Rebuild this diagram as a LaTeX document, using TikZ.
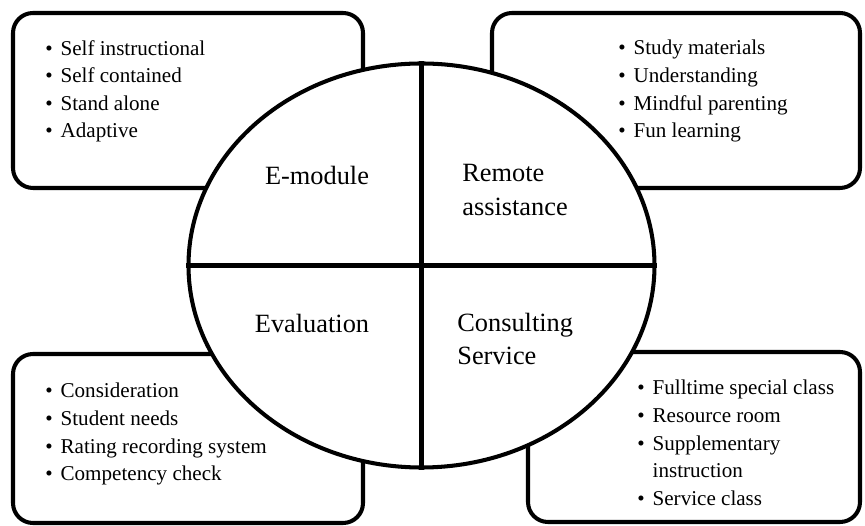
\documentclass[tikz,border=0pt]{standalone}
\usepackage{fontspec}
\setmainfont{Liberation Serif}
\usepackage{tikz}
\usetikzlibrary{shapes.geometric, positioning}

\newcommand{\itm}{\textbullet\hspace{4.5pt}}

\begin{document}
\begin{tikzpicture}[
    every node/.style={font=\fontsize{12}{15.7}\selectfont},
    % Component styles
    panel/.style={rectangle, rounded corners=0.4cm, draw=black, line width=2.3pt, fill=white, inner sep=0pt},
    hub/.style={ellipse, draw=black, line width=2.3pt, fill=white, minimum width=9.32cm, minimum height=8.08cm, inner sep=0pt},
    divider/.style={line width=2.3pt},
    % Labels
    quadlabel/.style={font=\fontsize{15}{19}\selectfont, align=left, inner sep=0pt},
    itemlist/.style={align=left, anchor=north west, inner sep=0pt}
]
\useasboundingbox (-8.43, -5.21) rectangle (8.87, 5.31);

% Corner panels
\node[panel, minimum width=7cm, minimum height=3.5cm] (tlpanel) at (-4.67, 3.30) {};
\node[panel, minimum width=7.36cm, minimum height=3.5cm] (trpanel) at (5.09, 3.30) {};
\node[panel, minimum width=7cm, minimum height=3.38cm] (blpanel) at (-4.67, -3.46) {};
\node[panel, minimum width=6.64cm, minimum height=3.4cm] (brpanel) at (5.45, -3.43) {};

% Central ellipse
\node[hub] (hub) at (0, 0) {};
\draw[divider] (hub.north) -- (hub.south);
\draw[divider] (hub.west) -- (hub.east);

% Quadrant labels
\node[quadlabel] (emodule) at (-2.09, 1.81) {E-module};
\node[quadlabel, anchor=west] (remote) at (0.81, 1.51) {Remote\\assistance};
\node[quadlabel] (evaluation) at (-2.19, -1.15) {Evaluation};
\node[quadlabel, anchor=west] (consulting) at (0.71, -1.47) {Consulting\\Service};

% Item lists
\node[itemlist] (emodlist) at (-7.53, 4.51) {\itm Self instructional\\\itm Self contained\\\itm Stand alone\\\itm Adaptive};
\node[itemlist] (remotelist) at (3.93, 4.51) {\itm Study materials\\\itm Understanding\\\itm Mindful parenting\\\itm Fun learning};
\node[itemlist] (evallist) at (-7.53, -2.35) {\itm Consideration\\\itm Student needs\\\itm Rating recording system\\\itm Competency check};
\node[itemlist] (consultlist) at (4.31, -2.29) {\itm Fulltime special class\\\itm Resource room\\\itm Supplementary\\\hphantom{\itm}instruction\\\itm Service class};

\end{tikzpicture}
\end{document}
